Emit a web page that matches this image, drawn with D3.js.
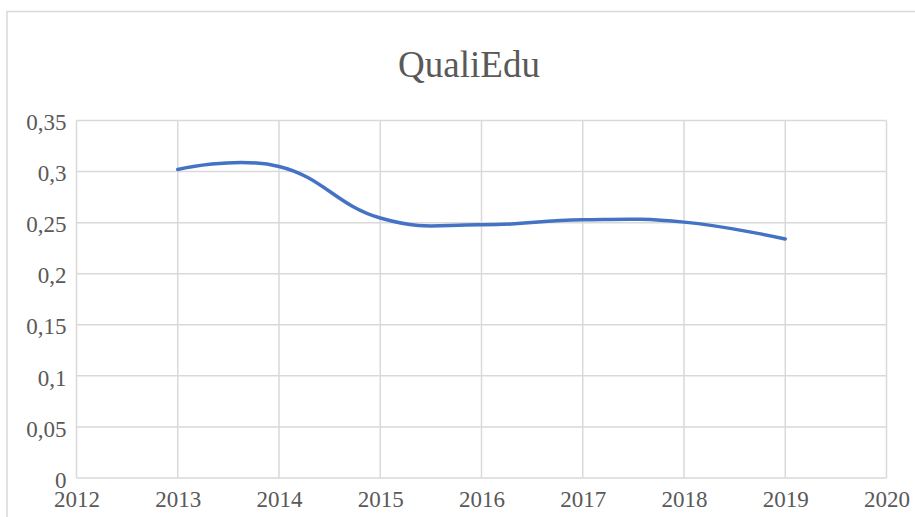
<!DOCTYPE html>
<html>
<head>
<meta charset="utf-8">
<script src="https://cdn.jsdelivr.net/npm/d3@7"></script>
<style>
  html, body { margin: 0; padding: 0; background: #ffffff; }
  svg { display: block; }
</style>
</head>
<body>
<svg id="chart" width="915" height="517"></svg>
<script>
// ---- data ----
const chartTitle = "QualiEdu";
const years = [2013, 2014, 2015, 2016, 2017, 2018, 2019];
const qualiEdu = [0.302, 0.305, 0.2545, 0.248, 0.2528, 0.2505, 0.234];
const xTicks = [2012, 2013, 2014, 2015, 2016, 2017, 2018, 2019, 2020];
const yTicks = [0, 0.05, 0.1, 0.15, 0.2, 0.25, 0.3, 0.35];

// ---- setup ----
const svg = d3.select("#chart");
const W = 915, H = 517;
const textColor = "#595959";
const gridColor = "#d9d9d9";
const fontFamily = "'Liberation Serif', 'Times New Roman', serif";

const locale = d3.formatLocale({ decimal: ",", thousands: ".", grouping: [3], currency: ["", ""] });
const fmt = locale.format("~g");

const x = d3.scaleLinear().domain([2012, 2020]).range([76.5, 886.5]);
const y = d3.scaleLinear().domain([0, 0.35]).range([478, 120.5]);

// chart border
svg.append("rect")
  .attr("x", 7).attr("y", 11.5)
  .attr("width", W + 20).attr("height", H + 20)
  .attr("fill", "#ffffff")
  .attr("stroke", gridColor).attr("stroke-width", 1.5);

// title
svg.append("text")
  .attr("x", 469).attr("y", 77.3)
  .attr("text-anchor", "middle")
  .attr("font-family", fontFamily)
  .attr("font-size", 37)
  .attr("fill", textColor)
  .text(chartTitle);

// gridlines
const grid = svg.append("g");
grid.selectAll("line.h").data(yTicks).join("line")
  .attr("class", "h")
  .attr("x1", x(2012)).attr("x2", x(2020))
  .attr("y1", d => y(d)).attr("y2", d => y(d))
  .attr("stroke", gridColor).attr("stroke-width", 1.5);
grid.selectAll("line.v").data(xTicks).join("line")
  .attr("class", "v")
  .attr("x1", d => x(d)).attr("x2", d => x(d))
  .attr("y1", y(0.35)).attr("y2", y(0))
  .attr("stroke", gridColor).attr("stroke-width", 1.5);

// axes
const yAxis = svg.append("g")
  .attr("transform", `translate(${x(2012)},0)`)
  .call(d3.axisLeft(y).tickValues(yTicks).tickSize(0).tickPadding(10).tickFormat(fmt));
yAxis.select(".domain").remove();
yAxis.selectAll("text")
  .attr("font-family", fontFamily).attr("font-size", 23)
  .attr("fill", textColor).attr("dy", "0.4em");

const xAxis = svg.append("g")
  .attr("transform", `translate(0,${y(0)})`)
  .call(d3.axisBottom(x).tickValues(xTicks).tickSize(0).tickPadding(13).tickFormat(d3.format("d")));
xAxis.select(".domain").remove();
xAxis.selectAll("text")
  .attr("font-family", fontFamily).attr("font-size", 23)
  .attr("fill", textColor);

// line
const data = years.map((yr, i) => ({ yr, v: qualiEdu[i] }));
svg.append("path")
  .datum(data)
  .attr("fill", "none")
  .attr("stroke", "#4472c4")
  .attr("stroke-width", 3.5)
  .attr("stroke-linecap", "round")
  .attr("d", d3.line().x(d => x(d.yr)).y(d => y(d.v)).curve(d3.curveCardinal.tension(-0.3)));
</script>
</body>
</html>
